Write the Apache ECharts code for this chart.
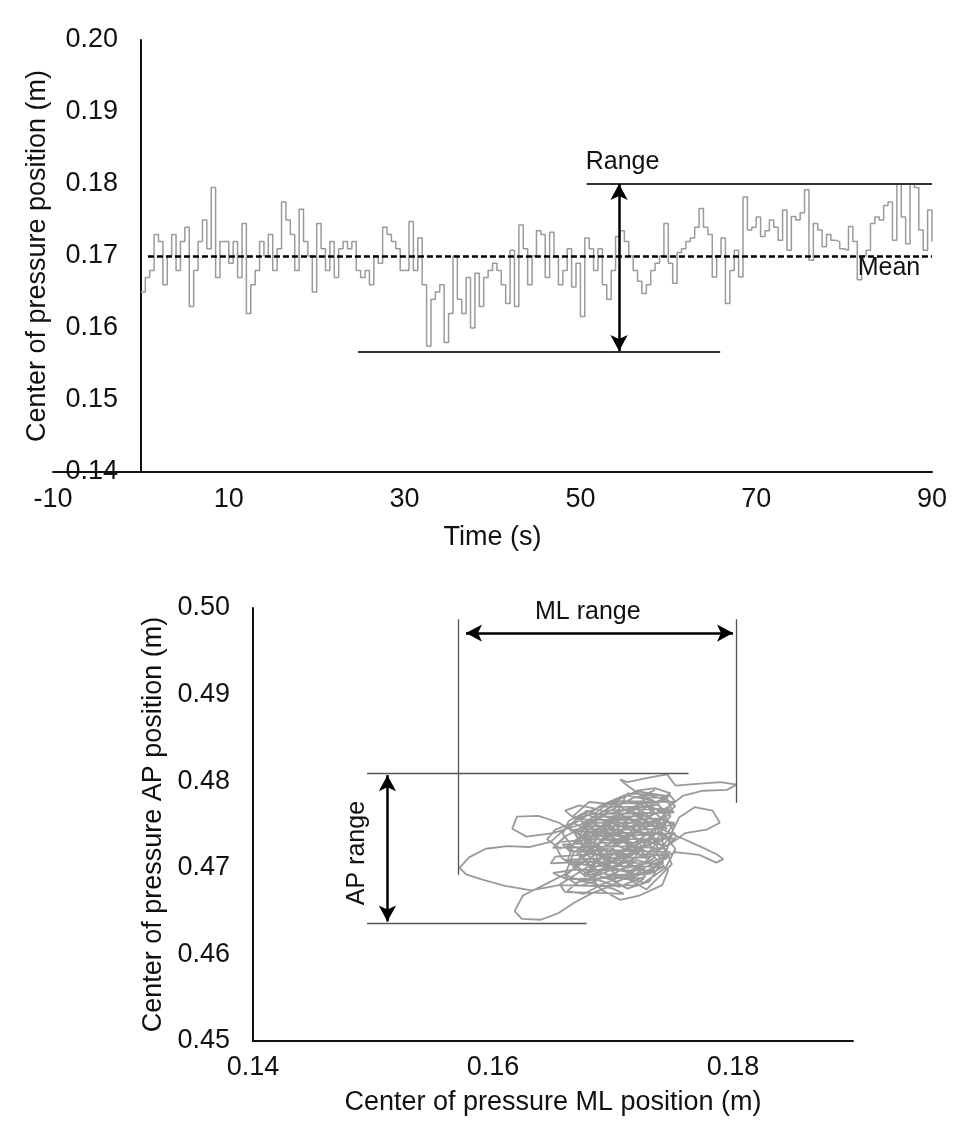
<!DOCTYPE html>
<html>
<head>
<meta charset="utf-8">
<script src="https://cdn.jsdelivr.net/npm/echarts@6/dist/echarts.min.js"></script>
<style>
  html, body { margin: 0; padding: 0; background: #fff; }
  #main { width: 974px; height: 1145px; }
</style>
</head>
<body>
<div id="main"></div>
<script>
// ---- top panel: CoP position over time [s, m] ----
var copTrace = [
  [0,0.165],[0.5,0.167],[1,0.168],[1.5,0.173],[2,0.172],[2.5,0.166],[3,0.170],[3.5,0.173],[4,0.168],[4.5,0.172],
  [5,0.174],[5.5,0.163],[6,0.168],[6.5,0.172],[7,0.175],[7.5,0.171],[8,0.1795],[8.5,0.167],[9,0.172],[9.5,0.172],
  [10,0.169],[10.5,0.172],[11,0.167],[11.5,0.1745],[12,0.162],[12.5,0.166],[13,0.168],[13.5,0.172],[14,0.170],[14.5,0.173],
  [15,0.168],[15.5,0.171],[16,0.1775],[16.5,0.175],[17,0.173],[17.5,0.168],[18,0.1765],[18.5,0.172],[19,0.170],[19.5,0.165],
  [20,0.1745],[20.5,0.171],[21,0.168],[21.5,0.172],[22,0.167],[22.5,0.171],[23,0.172],[23.5,0.171],[24,0.172],[24.5,0.168],
  [25,0.167],[25.5,0.168],[26,0.166],[26.5,0.170],[27,0.169],[27.5,0.174],[28,0.173],[28.5,0.172],[29,0.171],[29.5,0.168],
  [30,0.168],[30.5,0.1748],[31,0.168],[31.5,0.1725],[32,0.166],[32.5,0.1575],[33,0.164],[33.5,0.165],[34,0.166],[34.5,0.158],
  [35,0.162],[35.5,0.170],[36,0.164],[36.5,0.162],[37,0.167],[37.5,0.160],[38,0.1676],[38.5,0.163],[39,0.167],[39.5,0.168],
  [40,0.169],[40.5,0.168],[41,0.166],[41.5,0.1634],[42,0.1708],[42.5,0.163],[43,0.1743],[43.5,0.171],[44,0.166],[44.5,0.170],
  [45,0.1735],[45.5,0.173],[46,0.167],[46.5,0.1733],[47,0.170],[47.5,0.166],[48,0.168],[48.5,0.171],[49,0.1657],[49.5,0.169],
  [50,0.1616],[50.5,0.1725],[51,0.171],[51.5,0.168],[52,0.171],[52.5,0.166],[53,0.164],[53.5,0.168],[54,0.1727],[54.5,0.1735],
  [55,0.172],[55.5,0.170],[56,0.168],[56.5,0.1665],[57,0.1648],[57.5,0.166],[58,0.168],[58.5,0.169],[59,0.170],[59.5,0.1745],
  [60,0.169],[60.5,0.1662],[61,0.1705],[61.5,0.171],[62,0.172],[62.5,0.1725],[63,0.174],[63.5,0.1766],[64,0.174],[64.5,0.173],
  [65,0.1671],[65.5,0.170],[66,0.1725],[66.5,0.1634],[67,0.168],[67.5,0.1708],[68,0.1671],[68.5,0.1782],[69,0.1736],[69.5,0.174],
  [70,0.1754],[70.5,0.1727],[71,0.1735],[71.5,0.175],[72,0.174],[72.5,0.1722],[73,0.1764],[73.5,0.1708],[74,0.1755],[74.5,0.175],
  [75,0.176],[75.5,0.1792],[76,0.1694],[76.5,0.1745],[77,0.1736],[77.5,0.1713],[78,0.173],[78.5,0.1722],[79,0.172],[79.5,0.171],
  [80,0.1708],[80.5,0.1741],[81,0.172],[81.5,0.1667],[82,0.170],[82.5,0.1708],[83,0.1745],[83.5,0.1754],[84,0.175],[84.5,0.177],
  [85,0.1775],[85.5,0.1722],[86,0.180],[86.5,0.1754],[87,0.1717],[87.5,0.180],[88,0.1795],[88.5,0.1736],[89,0.1708],[89.5,0.1764],
  [90,0.172]
];
var timeTicks = { min: -10, max: 90, step: 20 };
var copTicks = { min: 0.14, max: 0.20, step: 0.01 };

// annotation end points (data units)
var meanLine = [[0.8, 0.170], [90, 0.170]];
var rangeTop = [[50.7, 0.1801], [90, 0.1801]];
var rangeBottom = [[24.7, 0.1567], [65.9, 0.1567]];
var rangeArrow = [[54.4, 0.1800], [54.4, 0.1568]];
var rangeLabelAt = [54.8, 0.1831];
var meanLabelAt = [85.1, 0.1683];

// ---- bottom panel: CoP path, ML vs AP [m] ----
var swayPath = [
  [0.1690,0.4730],[0.1712,0.4748],[0.1725,0.4722],[0.1704,0.4705],[0.1683,0.4718],[0.1671,0.4741],[0.1695,0.4762],[0.1720,0.4770],
  [0.1738,0.4751],[0.1730,0.4728],[0.1742,0.4706],[0.1721,0.4692],[0.1698,0.4700],[0.1677,0.4690],[0.1662,0.4708],[0.1668,0.4731],
  [0.1686,0.4750],[0.1707,0.4738],[0.1716,0.4715],[0.1735,0.4738],[0.1748,0.4760],[0.1733,0.4778],[0.1710,0.4784],[0.1690,0.4772],
  [0.1676,0.4758],[0.1660,0.4745],[0.1648,0.4730],[0.1630,0.4724],[0.1612,0.4725],[0.1594,0.4722],[0.1580,0.4712],[0.1572,0.4700],
  [0.1578,0.4692],[0.1592,0.4686],[0.1610,0.4679],[0.1632,0.4674],[0.1655,0.4680],[0.1674,0.4697],[0.1695,0.4714],[0.1718,0.4726],
  [0.1740,0.4742],[0.1752,0.4722],[0.1744,0.4700],[0.1726,0.4683],[0.1705,0.4690],[0.1688,0.4708],[0.1680,0.4733],[0.1702,0.4755],
  [0.1726,0.4762],[0.1715,0.4741],[0.1697,0.4727],[0.1676,0.4715],[0.1665,0.4696],[0.1648,0.4684],[0.1625,0.4668],[0.1618,0.4650],
  [0.1624,0.4641],[0.1640,0.4640],[0.1655,0.4648],[0.1668,0.4660],[0.1683,0.4671],[0.1700,0.4680],[0.1722,0.4700],[0.1738,0.4722],
  [0.1728,0.4745],[0.1708,0.4760],[0.1688,0.4745],[0.1672,0.4722],[0.1690,0.4702],[0.1712,0.4695],[0.1733,0.4710],[0.1747,0.4735],
  [0.1755,0.4758],[0.1768,0.4770],[0.1783,0.4766],[0.1789,0.4752],[0.1778,0.4744],[0.1760,0.4740],[0.1745,0.4725],[0.1722,0.4733],
  [0.1701,0.4745],[0.1684,0.4762],[0.1700,0.4778],[0.1722,0.4788],[0.1740,0.4784],[0.1752,0.4771],[0.1737,0.4755],[0.1718,0.4750],
  [0.1695,0.4736],[0.1680,0.4720],[0.1667,0.4705],[0.1683,0.4688],[0.1705,0.4678],[0.1727,0.4690],[0.1712,0.4708],[0.1692,0.4722],
  [0.1672,0.4738],[0.1655,0.4752],[0.1638,0.4760],[0.1620,0.4759],[0.1616,0.4745],[0.1628,0.4736],[0.1650,0.4740],[0.1673,0.4750],
  [0.1695,0.4768],[0.1712,0.4777],[0.1730,0.4770],[0.1744,0.4752],[0.1736,0.4731],[0.1718,0.4720],[0.1700,0.4706],[0.1682,0.4700],
  [0.1670,0.4716],[0.1687,0.4733],[0.1710,0.4730],[0.1731,0.4717],[0.1746,0.4697],[0.1741,0.4680],[0.1722,0.4668],[0.1706,0.4663],
  [0.1690,0.4675],[0.1678,0.4695],[0.1695,0.4718],[0.1716,0.4738],[0.1733,0.4762],[0.1722,0.4785],[0.1710,0.4797],[0.1706,0.4802],
  [0.1712,0.4799],[0.1730,0.4804],[0.1745,0.4808],[0.1752,0.4795],[0.1770,0.4797],[0.1790,0.4799],[0.1803,0.4796],[0.1795,0.4790],
  [0.1775,0.4789],[0.1758,0.4783],[0.1746,0.4770],[0.1727,0.4757],[0.1706,0.4748],[0.1688,0.4728],[0.1674,0.4710],[0.1690,0.4694],
  [0.1711,0.4687],[0.1734,0.4697],[0.1724,0.4719],[0.1703,0.4733],[0.1683,0.4745],[0.1667,0.4760],[0.1680,0.4776],[0.1703,0.4773],
  [0.1721,0.4758],[0.1740,0.4745],[0.1756,0.4735],[0.1772,0.4725],[0.1786,0.4716],[0.1792,0.4710],[0.1786,0.4706],[0.1772,0.4715],
  [0.1752,0.4718],[0.1731,0.4706],[0.1712,0.4700],[0.1692,0.4710],[0.1675,0.4728],[0.1663,0.4748],[0.1678,0.4766],[0.1698,0.4757],
  [0.1718,0.4745],[0.1738,0.4732],[0.1727,0.4712],[0.1706,0.4724],[0.1688,0.4740],[0.1704,0.4764],[0.1726,0.4775],[0.1743,0.4762],
  [0.1732,0.4742],[0.1710,0.4722],[0.1693,0.4698],[0.1675,0.4684],[0.1660,0.4692],[0.1667,0.4717],[0.1685,0.4735],[0.1708,0.4742],
  [0.1727,0.4728],[0.1715,0.4706],[0.1696,0.4688],[0.1712,0.4676],[0.1730,0.4684],[0.1743,0.4712],[0.1750,0.4744],[0.1738,0.4773],
  [0.1716,0.4768],[0.1694,0.4750],[0.1676,0.4738],[0.1690,0.4720],[0.1700,0.4730],
  [0.1718,0.4741],[0.1729,0.4753],[0.1716,0.4766],[0.1702,0.4759],[0.1690,0.4748],[0.1678,0.4753],[0.1668,0.4740],[0.1674,0.4726],
  [0.1688,0.4719],[0.1699,0.4711],[0.1713,0.4716],[0.1724,0.4731],[0.1739,0.4727],[0.1746,0.4716],[0.1737,0.4703],[0.1720,0.4709],
  [0.1707,0.4697],[0.1694,0.4704],[0.1681,0.4711],[0.1669,0.4700],[0.1657,0.4712],[0.1652,0.4726],[0.1661,0.4737],[0.1675,0.4747],
  [0.1689,0.4759],[0.1703,0.4770],[0.1717,0.4781],[0.1731,0.4784],[0.1745,0.4778],[0.1750,0.4765],[0.1741,0.4756],[0.1727,0.4746],
  [0.1712,0.4736],[0.1698,0.4724],[0.1684,0.4714],[0.1671,0.4704],[0.1660,0.4690],[0.1672,0.4679],[0.1686,0.4685],[0.1699,0.4693],
  [0.1714,0.4686],[0.1728,0.4675],[0.1738,0.4689],[0.1749,0.4704],[0.1744,0.4721],[0.1733,0.4735],[0.1720,0.4727],[0.1706,0.4716],
  [0.1693,0.4728],[0.1681,0.4741],[0.1667,0.4752],[0.1652,0.4744],[0.1645,0.4733],[0.1656,0.4722],[0.1670,0.4729],[0.1684,0.4737],
  [0.1697,0.4745],[0.1711,0.4754],[0.1724,0.4767],[0.1738,0.4777],[0.1748,0.4786],[0.1735,0.4792],[0.1720,0.4789],[0.1707,0.4780],
  [0.1694,0.4773],[0.1680,0.4765],[0.1668,0.4757],[0.1660,0.4766],[0.1672,0.4772],[0.1686,0.4768],[0.1699,0.4762],[0.1713,0.4757],
  [0.1727,0.4751],[0.1742,0.4744],[0.1753,0.4737],[0.1747,0.4727],[0.1734,0.4720],[0.1721,0.4712],[0.1708,0.4705],[0.1696,0.4696],
  [0.1683,0.4689],[0.1670,0.4683],[0.1662,0.4673],[0.1676,0.4670],[0.1691,0.4681],[0.1705,0.4689],[0.1719,0.4697],[0.1733,0.4704],
  [0.1745,0.4711],[0.1739,0.4741],[0.1726,0.4738],[0.1713,0.4745],[0.1700,0.4751],[0.1687,0.4757],[0.1675,0.4763],[0.1663,0.4754],
  [0.1658,0.4739],[0.1666,0.4725],[0.1679,0.4719],[0.1693,0.4713],[0.1707,0.4708],[0.1721,0.4722],[0.1710,0.4733],[0.1698,0.4740],
  [0.1686,0.4727],[0.1673,0.4717],[0.1662,0.4722],[0.1674,0.4735],[0.1688,0.4745],[0.1703,0.4738],[0.1717,0.4728],[0.1730,0.4740],
  [0.1742,0.4753],[0.1751,0.4752],[0.1744,0.4737],[0.1730,0.4726],[0.1716,0.4721],[0.1702,0.4717],[0.1688,0.4703],[0.1675,0.4692],
  [0.1686,0.4697],[0.1700,0.4702],[0.1714,0.4709],[0.1727,0.4700],[0.1718,0.4692],[0.1703,0.4684],[0.1690,0.4690],[0.1679,0.4703],
  [0.1712,0.4786],[0.1748,0.4783],[0.1752,0.4776],[0.1706,0.4777],[0.1688,0.4771],[0.1729,0.4770],[0.1751,0.4764],[0.1716,0.4763],
  [0.1680,0.4762],[0.1670,0.4756],[0.1704,0.4755],[0.1741,0.4757],[0.1752,0.4749],[0.1719,0.4748],[0.1683,0.4748],[0.1664,0.4743],
  [0.1697,0.4740],[0.1733,0.4741],[0.1750,0.4734],[0.1722,0.4733],[0.1688,0.4733],[0.1656,0.4730],[0.1650,0.4723],[0.1679,0.4724],
  [0.1712,0.4725],[0.1744,0.4722],[0.1746,0.4714],[0.1718,0.4716],[0.1686,0.4716],[0.1652,0.4713],[0.1648,0.4705],[0.1676,0.4707],
  [0.1708,0.4706],[0.1738,0.4705],[0.1733,0.4697],[0.1701,0.4697],[0.1668,0.4698],[0.1650,0.4694],[0.1661,0.4687],[0.1692,0.4688],
  [0.1726,0.4688],[0.1718,0.4680],[0.1686,0.4679],[0.1656,0.4680],[0.1660,0.4672],[0.1690,0.4671],[0.1709,0.4670],
  [0.1700,0.4676],[0.1676,0.4684],[0.1702,0.4692],[0.1730,0.4693],[0.1742,0.4701],[0.1715,0.4702],[0.1681,0.4702],[0.1660,0.4709],
  [0.1692,0.4711],[0.1727,0.4712],[0.1748,0.4718],[0.1703,0.4720],[0.1664,0.4719],[0.1658,0.4727],[0.1696,0.4729],[0.1737,0.4729],
  [0.1752,0.4740],[0.1710,0.4737],[0.1672,0.4737],[0.1676,0.4745],[0.1708,0.4744],[0.1745,0.4745],[0.1740,0.4752],[0.1699,0.4752],
  [0.1674,0.4752],[0.1692,0.4759],[0.1730,0.4760],[0.1747,0.4768],[0.1712,0.4767],[0.1694,0.4766],[0.1700,0.4774],[0.1738,0.4775],
  [0.1746,0.4781],[0.1722,0.4781],[0.1735,0.4790]
];
var mlTicks = { min: 0.14, max: 0.19, step: 0.02 };
var apTicks = { min: 0.45, max: 0.50, step: 0.01 };

var mlLeftEdge = [[0.1571, 0.4987], [0.1571, 0.4692]];
var mlRightEdge = [[0.1803, 0.4987], [0.1803, 0.4775]];
var mlArrow = [[0.15775, 0.4971], [0.1800, 0.4971]];
var apTopEdge = [[0.1495, 0.4809], [0.1763, 0.4809]];
var apBottomEdge = [[0.1495, 0.4636], [0.1678, 0.4636]];
var apArrow = [[0.1512, 0.4807], [0.1512, 0.4638]];
var mlLabelAt = [0.1679, 0.4995];
var apLabelAt = [0.1487, 0.4717];

var FONT = '"Liberation Sans", Arial, Helvetica, sans-serif';
var INK = '#111';

function seg(pts, style, arrows) {
  var a = { coord: pts[0] }, b = { coord: pts[1] };
  if (arrows) { a.symbol = 'arrow'; b.symbol = 'arrow'; }
  return [a, b].map(function (p) { p.lineStyle = style; return p; });
}

function note(name, at, rotate) {
  return {
    name: name, coord: at, symbolSize: 0,
    label: { show: true, position: 'inside', formatter: '{b}', rotate: rotate || 0,
             color: INK, fontSize: 25, fontFamily: FONT }
  };
}

function valueAxis(ticks, idx, name, gap, digits, extra) {
  var ax = {
    type: 'value', gridIndex: idx,
    min: ticks.min, max: ticks.max, interval: ticks.step,
    name: name, nameLocation: 'middle', nameGap: gap,
    nameTextStyle: { color: INK, fontSize: 27, fontFamily: FONT },
    axisLine: { show: true, onZero: false, lineStyle: { color: INK, width: 2 } },
    axisTick: { show: false },
    splitLine: { show: false },
    axisLabel: {
      color: INK, fontSize: 27, fontFamily: FONT,
      formatter: function (v) { return v.toFixed(digits); }
    }
  };
  return Object.assign(ax, extra || {});
}

var chart = echarts.init(document.getElementById('main'), null, { renderer: 'canvas' });

var thin = { color: '#555', width: 1.3, type: 'solid' };
var bar = { color: '#333', width: 2, type: 'solid' };
var arrowStyle = { color: '#000', width: 2.5, type: 'solid' };
var dashed = { color: '#000', width: 2.5, type: [6, 3] };

var option = {
  animation: false,
  backgroundColor: '#fff',
  grid: [
    { left: 53, right: 42, top: 40, height: 432, outerBoundsMode: 'none' },
    { left: 253, width: 600, top: 608, height: 433, outerBoundsMode: 'none' }
  ],
  xAxis: [
    valueAxis(timeTicks, 0, 'Time (s)', 52, 0, { axisLabel: {
      color: INK, fontSize: 27, fontFamily: FONT, margin: 14,
      formatter: function (v) { return String(v); } } }),
    valueAxis(mlTicks, 1, 'Center of pressure ML position (m)', 48, 2, { axisLabel: {
      color: INK, fontSize: 27, fontFamily: FONT, margin: 13, showMaxLabel: false,
      formatter: function (v) { return v.toFixed(2); } } })
  ],
  yAxis: [
    // y axis crosses the time axis at t = 0 (88 px right of the grid edge)
    valueAxis(copTicks, 0, 'Center of pressure position (m)', 90, 2, { offset: -88, axisLabel: {
      color: INK, fontSize: 27, fontFamily: FONT, margin: 23,
      formatter: function (v) { return v.toFixed(2); } } }),
    valueAxis(apTicks, 1, 'Center of pressure AP position (m)', 86, 2, { axisLabel: {
      color: INK, fontSize: 27, fontFamily: FONT, margin: 23,
      formatter: function (v) { return v.toFixed(2); } } })
  ],
  series: [
    {
      type: 'line', xAxisIndex: 0, yAxisIndex: 0,
      data: copTrace, step: 'end', symbol: 'none', silent: true,
      lineStyle: { color: '#9a9a9a', width: 1.5 }
    },
    {
      type: 'line', xAxisIndex: 0, yAxisIndex: 0, data: [], silent: true,
      markLine: {
        silent: true, symbol: 'none', symbolSize: [13, 16],
        label: { show: false },
        data: [
          seg(meanLine, dashed),
          seg(rangeTop, bar),
          seg(rangeBottom, bar),
          seg(rangeArrow, arrowStyle, true)
        ]
      },
      markPoint: {
        silent: true, symbol: 'circle',
        data: [note('Range', rangeLabelAt), note('Mean', meanLabelAt)]
      }
    },
    {
      type: 'line', xAxisIndex: 1, yAxisIndex: 1,
      data: swayPath, symbol: 'none', silent: true,
      lineStyle: { color: '#9a9a9a', width: 1.8 }
    },
    {
      type: 'line', xAxisIndex: 1, yAxisIndex: 1, data: [], silent: true,
      markLine: {
        silent: true, symbol: 'none', symbolSize: [13, 16],
        label: { show: false },
        data: [
          seg(mlLeftEdge, thin),
          seg(mlRightEdge, thin),
          seg(apTopEdge, thin),
          seg(apBottomEdge, thin),
          seg(mlArrow, arrowStyle, true),
          seg(apArrow, arrowStyle, true)
        ]
      },
      markPoint: {
        silent: true, symbol: 'circle',
        data: [note('ML range', mlLabelAt), note('AP range', apLabelAt, 90)]
      }
    }
  ]
};

chart.setOption(option);
</script>
</body>
</html>
